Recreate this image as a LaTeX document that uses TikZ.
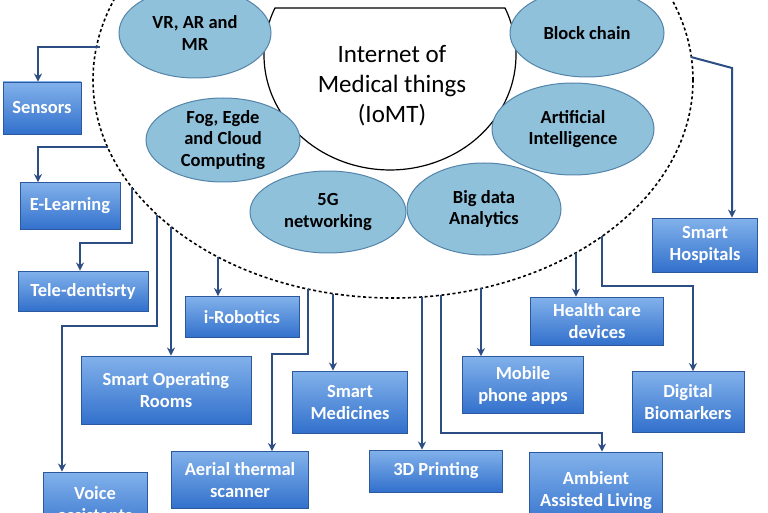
\documentclass[tikz,border=0pt]{standalone}
\usepackage{fontspec}
\setmainfont{Carlito}
\usepackage{tikz}
\usetikzlibrary{shapes.geometric,arrows.meta,positioning}
\usepackage{xcolor}

\definecolor{techfill}{RGB}{143,193,219}
\definecolor{techline}{RGB}{84,132,170}
\definecolor{boxtop}{RGB}{130,178,235}
\definecolor{boxbot}{RGB}{50,112,204}
\definecolor{boxline}{RGB}{44,88,158}
\definecolor{linkc}{RGB}{44,78,130}

\begin{document}
\begin{tikzpicture}[x=1pt,y=1pt,
        tech/.style={ellipse,draw=techline,line width=1pt,fill=techfill,align=center,inner sep=0pt,
          font=\fontsize{18.5}{21.5}\selectfont\bfseries},
        box/.style={draw=boxline,line width=0.9pt,top color=boxtop,bottom color=boxbot,text=white,
          align=center,inner sep=0pt,font=\fontsize{18.5}{22}\selectfont\bfseries},
        link/.style={draw=linkc,line width=2pt,-{Stealth[length=8pt,width=8pt]}},
        ring/.style={draw=black,line width=1.6pt,dash pattern=on 3pt off 2.6pt}
      ]
        \useasboundingbox[fill=white] (0,0) rectangle (768,-513);
        % outer ring and core
        \draw[ring] (393,-80) ellipse [x radius=300pt,y radius=218pt];
        \draw[fill=white,line width=1.2pt] (275,-8) -- (505,-8)
          arc[start angle=24.1,end angle=-204.1,x radius=126pt,y radius=115pt] -- cycle;
        \node[font=\fontsize{25}{30}\selectfont,align=center] (iomt) at (392,-86)
          {Internet of\\Medical things\\(IoMT)};
        % technologies
        \node[tech,minimum width=152pt,minimum height=90pt] (vr) at (195,-33) {VR, AR and\\MR};
        \node[tech,minimum width=154pt,minimum height=84pt] (fog) at (223,-140) {Fog, Egde\\and Cloud\\Computing};
        \node[tech,minimum width=156pt,minimum height=82pt] (fiveg) at (328,-212) {5G\\networking};
        \node[tech,minimum width=154pt,minimum height=92pt] (bigdata) at (484,-209) {Big data\\Analytics};
        \node[tech,minimum width=162pt,minimum height=92pt] (ai) at (573,-129) {Artificial\\Intelligence};
        \node[tech,minimum width=154pt,minimum height=88pt] (chain) at (587,-33) {Block chain};
        % applications
        \node[box,minimum width=78pt,minimum height=52pt] (sensors) at (42,-108) {Sensors};
        \node[box,minimum width=100pt,minimum height=47pt] (elearn) at (70,-206) {E-Learning};
        \node[box,minimum width=130pt,minimum height=40pt] (tele) at (83,-291) {Tele-dentisrty};
        \node[box,minimum width=114pt,minimum height=41pt] (irobot) at (242,-317) {i-Robotics};
        \node[box,minimum width=170pt,minimum height=68pt] (sor) at (166,-390) {Smart Operating\\Rooms};
        \node[box,minimum width=115pt,minimum height=62pt] (smed) at (350,-402) {Smart\\Medicines};
        \node[box,minimum width=137pt,minimum height=57pt] (aerial) at (240,-480) {Aerial thermal\\scanner};
        \node[box,minimum width=104pt,minimum height=64pt] (voice) at (95,-504) {Voice\\assistants};
        \node[box,minimum width=133pt,minimum height=42pt] (print) at (436,-471) {3D Printing};
        \node[box,minimum width=133pt,minimum height=78pt] (ambient) at (596,-491) {Ambient\\Assisted Living};
        \node[box,minimum width=121pt,minimum height=57pt] (mobile) at (523,-385) {Mobile\\phone apps};
        \node[box,minimum width=133pt,minimum height=48pt] (health) at (597,-321) {Health care\\devices};
        \node[box,minimum width=112pt,minimum height=61pt] (digital) at (688,-402) {Digital\\Biomarkers};
        \node[box,minimum width=105pt,minimum height=54pt] (hosp) at (705,-245) {Smart\\Hospitals};
        % start points on the ring
        \coordinate (r1) at (100,-47);
        \coordinate (r2) at (108,-147);
        \coordinate (r3) at (132,-188);
        \coordinate (r4) at (157,-215);
        \coordinate (r5) at (171,-227);
        \coordinate (r6) at (218,-257);
        \coordinate (r7) at (308,-289);
        \coordinate (r8) at (333,-294);
        \coordinate (r9) at (422,-297);
        \coordinate (r10) at (441,-295);
        \coordinate (r11) at (481,-288);
        \coordinate (r12) at (576,-253);
        \coordinate (r13) at (602,-236);
        \coordinate (r14) at (691,-57);
        % links
        \draw[link] (r1) -| ([xshift=-4pt]sensors.north);
        \draw[link] (r2) -| ([xshift=-32pt]elearn.north);
        \draw[link] (r3) -- ++(0,-55) -| ([xshift=-3pt]tele.north);
        \draw[link] (r4) -- ++(0,-111) -| ([xshift=-33pt]voice.north);
        \draw[link] (r5) -- ([xshift=5pt]sor.north);
        \draw[link] (r6) -- ([xshift=-24pt]irobot.north);
        \draw[link] (r7) -- ++(0,-65) -| ([xshift=32pt]aerial.north);
        \draw[link] (r8) -- ([xshift=-17pt]smed.north);
        \draw[link] (r9) -- ([xshift=-14pt]print.north);
        \draw[link] (r10) -- ++(0,-138) -| ([xshift=6pt]ambient.north);
        \draw[link] (r11) -- ([xshift=-42pt]mobile.north);
        \draw[link] (r12) -- ([xshift=-21pt]health.north);
        \draw[link] (r13) -- ++(0,-50) -| ([xshift=5pt]digital.north);
        \draw[link] (r14) -- (732,-68) -- ([xshift=27pt]hosp.north);
      \end{tikzpicture}
\end{document}
